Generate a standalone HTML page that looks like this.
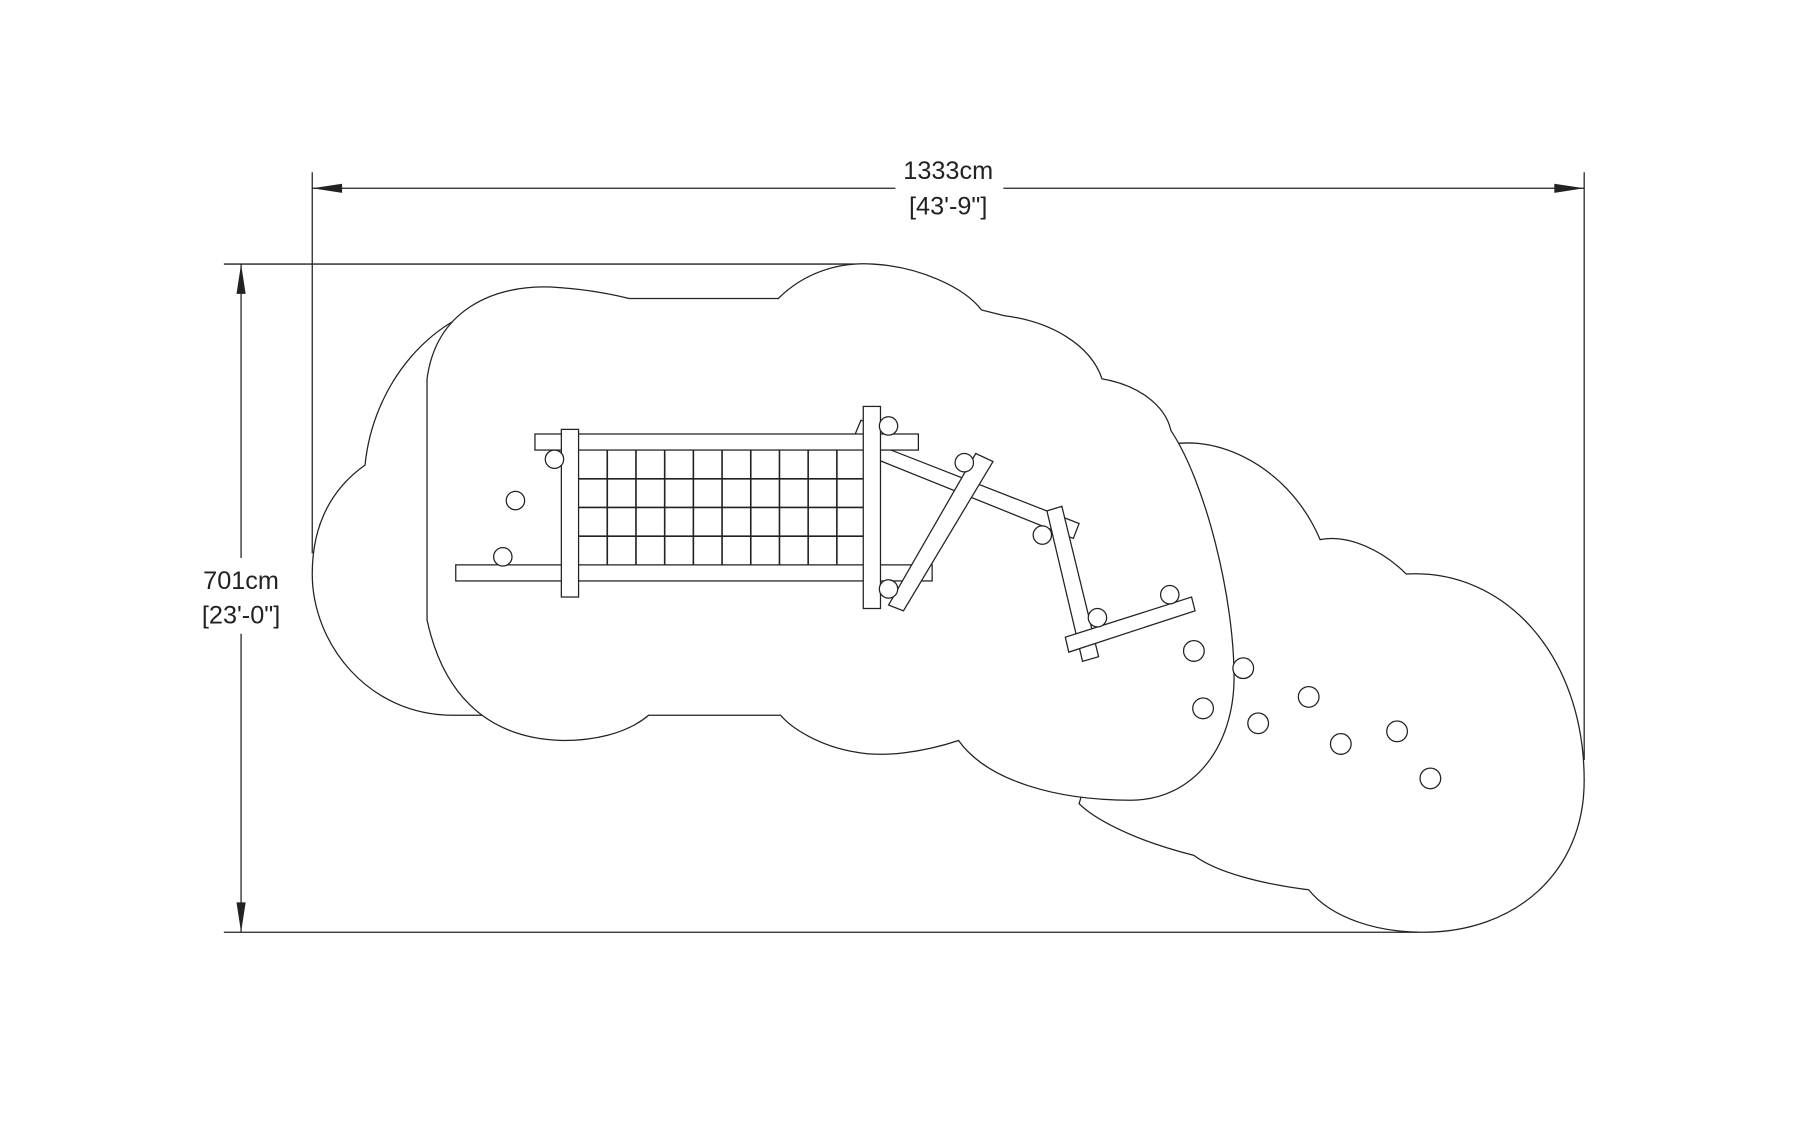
<!DOCTYPE html>
<html><head><meta charset="utf-8"><style>
html,body{margin:0;padding:0;background:#fff;}
svg{display:block}
text{font-family:"Liberation Sans",sans-serif;fill:#222;}
</style></head><body>
<svg width="1800" height="1124" viewBox="0 0 1568 979" preserveAspectRatio="none" xmlns="http://www.w3.org/2000/svg">
<g fill="none" stroke="#222" stroke-width="1.1">
<line x1="272" y1="150" x2="272" y2="482"/>
<line x1="1380" y1="150" x2="1380" y2="662"/>
<line x1="272" y1="164" x2="780" y2="164"/>
<line x1="874" y1="164" x2="1380" y2="164"/>
<line x1="195" y1="230" x2="745" y2="230"/>
<line x1="195" y1="812" x2="1235" y2="812"/>
<line x1="210" y1="230" x2="210" y2="486"/>
<line x1="210" y1="552" x2="210" y2="812"/>
</g>
<g fill="#222">
<polygon points="272,164 298,160 298,168"/>
<polygon points="1380,164 1354,160 1354,168"/>
<polygon points="210,230 206,256 214,256"/>
<polygon points="210,812 206,786 214,786"/>
</g>
<text x="826" y="156" font-size="22" text-anchor="middle">1333cm</text>
<text x="826" y="187" font-size="22" text-anchor="middle">[43'-9"]</text>
<text x="210" y="513" font-size="22" text-anchor="middle">701cm</text>
<text x="210" y="543" font-size="22" text-anchor="middle">[23'-0"]</text>

<g fill="#fff" stroke="#222" stroke-width="1.1">
<path d="M1010,390 C1050,375 1120,400 1150,470 C1175,465 1205,480 1225,500 C1310,495 1380,570 1380,680 C1380,760 1320,812 1240,812 C1200,812 1160,800 1140,775 C1100,770 1060,760 1040,745 C980,730 950,710 940,700 L1000,500 Z"/>
<path d="M430,623 L395,623 C320,623 272,560 272,500 C272,455 290,425 318,405 C325,335 375,272 445,262 L520,262 L520,623 Z"/>
<path d="M372,330 C380,270 430,248 480,250 C515,252 540,258 548,260 L678,260 C700,238 730,228 760,230 C800,232 840,250 855,270 L875,275 C915,280 950,300 960,330 C990,335 1015,352 1020,375 C1050,420 1075,520 1075,590 C1075,650 1040,697 985,697 C920,697 860,680 835,645 C805,655 770,660 745,655 C715,650 690,635 680,623 L565,623 C545,640 515,645 490,645 C420,643 385,600 372,540 Z"/>
</g>

<g fill="#fff" stroke="#222" stroke-width="1.1">
<polygon points="766,388 940,456 935,469 766,401"/>
<polygon points="745,378 750,366 760,370 755,380"/>
<rect x="466" y="378" width="334" height="14"/>
<rect x="397" y="492" width="415" height="14"/>
<g stroke-width="1.4">
<line x1="529" y1="392" x2="529" y2="492"/><line x1="554" y1="392" x2="554" y2="492"/>
<line x1="579" y1="392" x2="579" y2="492"/><line x1="604" y1="392" x2="604" y2="492"/>
<line x1="629" y1="392" x2="629" y2="492"/><line x1="654" y1="392" x2="654" y2="492"/>
<line x1="679" y1="392" x2="679" y2="492"/><line x1="704" y1="392" x2="704" y2="492"/>
<line x1="729" y1="392" x2="729" y2="492"/>
<line x1="504" y1="417" x2="752" y2="417"/><line x1="504" y1="442" x2="752" y2="442"/>
<line x1="504" y1="467" x2="752" y2="467"/>
</g>
<rect x="489" y="374" width="15" height="146"/>
<rect x="752" y="354" width="15" height="176"/>
<polygon points="850,395 865,402 787,532 774,527"/>
<polygon points="912,445 925,441 957,572 943,576"/>
<polygon points="928,555 1038,520 1041,532 931,568"/>
<circle cx="483" cy="400" r="8"/><circle cx="449" cy="436" r="8"/><circle cx="438" cy="485" r="8"/>
<circle cx="774" cy="371" r="8"/><circle cx="774" cy="513" r="8"/><circle cx="840" cy="403" r="8"/>
<circle cx="908" cy="466" r="8"/><circle cx="956" cy="538" r="8"/><circle cx="1019" cy="518" r="8"/>
<circle cx="1040" cy="567" r="9"/><circle cx="1083" cy="582" r="9"/><circle cx="1048" cy="617" r="9"/>
<circle cx="1140" cy="607" r="9"/><circle cx="1096" cy="630" r="9"/><circle cx="1168" cy="648" r="9"/>
<circle cx="1217" cy="637" r="9"/><circle cx="1246" cy="678" r="9"/>
</g>
</svg>
</body></html>
